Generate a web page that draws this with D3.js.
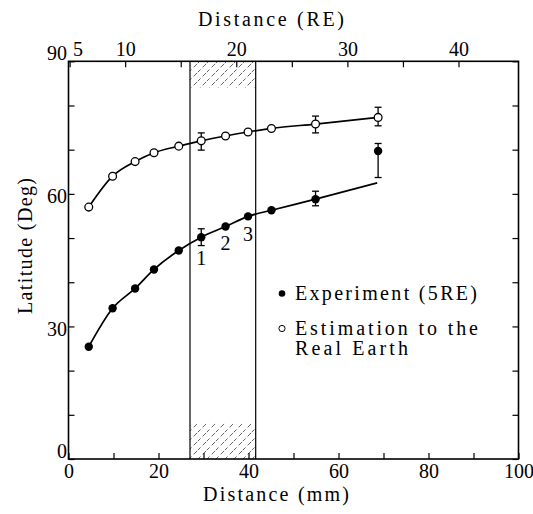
<!DOCTYPE html>
<html>
<head>
<meta charset="utf-8">
<script src="https://cdn.jsdelivr.net/npm/d3@7"></script>
<style>
  body { margin: 0; background: #fff; }
  svg text { font-family: "Liberation Serif", "Times New Roman", "DejaVu Serif", serif; }
</style>
</head>
<body>
<script>
// Data
const distMm = [4.5, 9.8, 14.8, 19.0, 24.5, 29.5, 34.9, 39.9, 45.1, 54.9, 68.8];
const estLat = [57.0, 64.0, 67.3, 69.3, 70.8, 72.0, 73.1, 74.0, 74.8, 75.8, 77.3];
const expLat = [25.4, 34.1, 38.6, 42.9, 47.2, 50.2, 52.6, 54.9, 56.3, 58.8, 69.7];
// error bars [low, high], null where none drawn
const estErr = [null, null, null, null, null, [69.9, 73.8], null, null, null, [73.8, 77.6], [75.4, 79.6]];
const expErr = [null, null, null, null, null, [48.3, 52.1], null, null, null, [57.3, 60.6], [63.7, 71.4]];
// fitted curve through the experiment points (ends below last point)
const expCurveMm = [4.5, 9.8, 14.8, 19.0, 24.5, 29.5, 34.9, 39.9, 45.1, 54.9, 68.6];
const expCurveLat = [25.4, 34.1, 38.6, 42.9, 47.2, 50.2, 52.6, 54.9, 56.3, 58.8, 62.5];
// numbered points on the experiment curve
const pointLabels = ["1", "2", "3"];
const pointLabelIdx = [5, 6, 7];
// shaded band (mm) and hatched strips (deg)
const bandMm = [27, 41.6];
const hatchLat = [[84, 90], [0, 8]];
// ticks
const mmTicks = d3.range(0, 101, 10);
const mmLabels = [0, 20, 40, 60, 80, 100];
const reTicks = [5, 10, 15, 20, 25, 30, 35, 40];
const reLabels = [5, 10, 20, 30, 40];
const latTicks = d3.range(0, 91, 10);
const latLabels = [0, 30, 60, 90];
const legendItems = [
  { filled: true, lines: ["Experiment (5RE)"], widths: [182] },
  { filled: false, lines: ["Estimation to the", "Real Earth"], widths: [183, 113] }
];

const width = 533, height = 514;
const plotL = 68.5, plotR = 518.5, plotT = 61.3, plotB = 459;
const serif = "Liberation Serif, Times New Roman, DejaVu Serif, serif";

const x = d3.scaleLinear().domain([0, 100]).range([plotL, plotR]);
const xRE = d3.scaleLinear().domain([4.9, 45.4]).range([plotL, plotR]);
const y = d3.scaleLinear().domain([0, 90]).range([plotB, plotT]);

const svg = d3.select("body").append("svg")
  .attr("width", width)
  .attr("height", height)
  .style("display", "block");

// hatch pattern
svg.append("defs").append("pattern")
  .attr("id", "hatch")
  .attr("patternUnits", "userSpaceOnUse")
  .attr("width", 9).attr("height", 9)
  .append("path")
  .attr("d", "M-1,10 L10,-1")
  .attr("stroke", "#222")
  .attr("stroke-width", 0.7)
  .attr("stroke-dasharray", "5 3");

// band
const band = svg.append("g");
hatchLat.forEach(([a, b]) => {
  band.append("rect")
    .attr("x", x(bandMm[0])).attr("width", x(bandMm[1]) - x(bandMm[0]))
    .attr("y", y(b)).attr("height", y(a) - y(b))
    .attr("fill", "url(#hatch)");
});
bandMm.forEach(v => {
  band.append("line")
    .attr("x1", x(v)).attr("x2", x(v))
    .attr("y1", plotT).attr("y2", plotB)
    .attr("stroke", "#000").attr("stroke-width", 1.2);
});

// axes
const fontSize = 20;
const tickFont = 20;
function styleAxis(g) {
  g.attr("font-family", serif);
  g.select(".domain").remove();
  g.selectAll(".tick line").attr("stroke", "#000").attr("stroke-width", 1.2);
  g.selectAll(".tick text").attr("font-size", tickFont).attr("fill", "#000");
}

svg.append("g")
  .attr("transform", `translate(0,${plotB})`)
  .call(d3.axisBottom(x).tickValues(mmTicks).tickSize(-6)
    .tickFormat(d => mmLabels.includes(d) ? d : ""))
  .call(styleAxis)
  .call(g => g.selectAll(".tick text").attr("y", 19).attr("dy", null));

svg.append("g")
  .attr("transform", `translate(0,${plotT})`)
  .call(d3.axisTop(xRE).tickValues(reTicks).tickSize(-6)
    .tickFormat(d => reLabels.includes(d) ? d : ""))
  .call(styleAxis)
  .call(g => g.selectAll(".tick text").attr("y", -5).attr("dy", null))
  .call(g => g.selectAll(".tick text").filter(d => d === 5)
    .attr("text-anchor", "start").attr("x", 3));

svg.append("g")
  .attr("transform", `translate(${plotL},0)`)
  .call(d3.axisLeft(y).tickValues(latTicks).tickSize(-6)
    .tickFormat(d => latLabels.includes(d) ? d : ""))
  .call(styleAxis)
  .call(g => g.selectAll(".tick text").attr("x", -1.5).attr("dy", "0.45em"))
  .call(g => g.selectAll(".tick text").filter(d => d === 0 || d === 90)
    .attr("dy", "-2px"));

svg.append("g")
  .attr("transform", `translate(${plotR},0)`)
  .call(d3.axisRight(y).tickValues(latTicks).tickSize(-6).tickFormat(""))
  .call(styleAxis);

// frame
svg.append("rect")
  .attr("x", plotL).attr("y", plotT)
  .attr("width", plotR - plotL).attr("height", plotB - plotT)
  .attr("fill", "none").attr("stroke", "#000").attr("stroke-width", 1.6);

// axis titles
svg.append("text")
  .attr("x", 271).attr("y", 26)
  .attr("text-anchor", "middle")
  .attr("font-size", fontSize)
  .attr("textLength", 146).attr("lengthAdjust", "spacing")
  .text("Distance (RE)");

svg.append("text")
  .attr("x", 276).attr("y", 501)
  .attr("text-anchor", "middle")
  .attr("font-size", fontSize)
  .attr("textLength", 146).attr("lengthAdjust", "spacing")
  .text("Distance (mm)");

svg.append("text")
  .attr("transform", "translate(32,246) rotate(-90)")
  .attr("text-anchor", "middle")
  .attr("font-size", fontSize)
  .attr("textLength", 136).attr("lengthAdjust", "spacing")
  .text("Latitude (Deg)");

// curves
const line = d3.line().curve(d3.curveMonotoneX);
svg.append("path")
  .attr("d", line(distMm.map((d, i) => [x(d), y(estLat[i])])))
  .attr("fill", "none").attr("stroke", "#000").attr("stroke-width", 1.7);
svg.append("path")
  .attr("d", line(expCurveMm.map((d, i) => [x(d), y(expCurveLat[i])])))
  .attr("fill", "none").attr("stroke", "#000").attr("stroke-width", 1.7);

// error bars
function errorBars(errs) {
  const g = svg.append("g").attr("stroke", "#000").attr("stroke-width", 1.3);
  errs.forEach((e, i) => {
    if (!e) return;
    const cx = x(distMm[i]);
    g.append("line").attr("x1", cx).attr("x2", cx).attr("y1", y(e[0])).attr("y2", y(e[1]));
    e.forEach(v => g.append("line")
      .attr("x1", cx - 3.5).attr("x2", cx + 3.5).attr("y1", y(v)).attr("y2", y(v)));
  });
}
errorBars(estErr);
errorBars(expErr);

// markers
svg.append("g").selectAll("circle")
  .data(distMm)
  .join("circle")
  .attr("cx", d => x(d))
  .attr("cy", (d, i) => y(estLat[i]))
  .attr("r", 3.9)
  .attr("fill", "#fff").attr("stroke", "#000").attr("stroke-width", 1.3);

svg.append("g").selectAll("circle")
  .data(distMm)
  .join("circle")
  .attr("cx", d => x(d))
  .attr("cy", (d, i) => y(expLat[i]))
  .attr("r", 4.2)
  .attr("fill", "#000");

// point numbers
const labelDy = [28, 23, 25];
svg.append("g").selectAll("text")
  .data(pointLabels)
  .join("text")
  .attr("x", (d, i) => x(distMm[pointLabelIdx[i]]))
  .attr("y", (d, i) => y(expLat[pointLabelIdx[i]]) + labelDy[i])
  .attr("text-anchor", "middle")
  .attr("font-size", tickFont)
  .text(d => d);

// legend
const legend = svg.append("g").attr("transform", "translate(282,0)");
const legendRows = [[299.5], [334.5, 355]];
legendItems.forEach((item, k) => {
  const rows = legendRows[k];
  legend.append("circle")
    .attr("cx", 0).attr("cy", rows[0] - 6)
    .attr("r", item.filled ? 3.3 : 3.1)
    .attr("fill", item.filled ? "#000" : "#fff")
    .attr("stroke", "#000").attr("stroke-width", item.filled ? 0 : 1);
  item.lines.forEach((t, j) => {
    legend.append("text")
      .attr("x", 13).attr("y", rows[j])
      .attr("font-size", fontSize)
      .attr("textLength", item.widths[j]).attr("lengthAdjust", "spacing")
      .text(t);
  });
});
</script>
</body>
</html>
